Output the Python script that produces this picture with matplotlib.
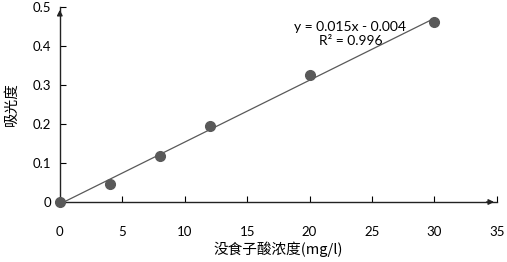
import numpy as np
import matplotlib.pyplot as plt

plt.rcParams['font.family'] = ['Lato', 'DejaVu Sans']

# data
conc = [0, 4, 8, 12, 20, 30]
absorb = [0.0, 0.045, 0.117, 0.195, 0.325, 0.462]
x_ticks = [0, 5, 10, 15, 20, 25, 30, 35]
y_ticks = [0, 0.1, 0.2, 0.3, 0.4, 0.5]
y_labels = ['0', '0.1', '0.2', '0.3', '0.4', '0.5']

fig = plt.figure(figsize=(5.07, 2.62), dpi=100)
ax = fig.add_axes([0.118, 0.229, 0.862, 0.744])

grey = '#595959'
# trend line
fit = np.polyfit(conc, absorb, 1)
xl = np.array([0, 30])
ax.plot(xl, np.polyval(fit, xl), color=grey, lw=0.9, zorder=2)
ax.plot(conc, absorb, 'o', color=grey, ms=7, zorder=3, clip_on=False)

ax.set_xlim(0, 35)
ax.set_ylim(0, 0.5)
ax.set_xticks(x_ticks)
ax.set_yticks(y_ticks)
ax.set_yticklabels(y_labels)
ax.tick_params(axis='x', direction='in', length=4, pad=17, labelsize=9.5)
ax.tick_params(axis='y', direction='in', length=4, pad=6, labelsize=9.5)

for s in ['top', 'right']:
    ax.spines[s].set_visible(False)
for s in ['left', 'bottom']:
    ax.spines[s].set_color('#222222')
    ax.spines[s].set_linewidth(1.0)

# arrowheads at the axis ends
ax.annotate('', xy=(1.0, 0), xytext=(0.97, 0), xycoords='axes fraction',
            arrowprops=dict(arrowstyle='-|>', color='#222222', lw=1, mutation_scale=8))
ax.annotate('', xy=(0, 1.0), xytext=(0, 0.95), xycoords='axes fraction',
            arrowprops=dict(arrowstyle='-|>', color='#222222', lw=1, mutation_scale=8))

ax.text(0.665, 0.862, 'y = 0.015x - 0.004\nR² = 0.996', transform=ax.transAxes,
        ha='center', va='center', fontsize=10, linespacing=1.25)

ax.set_xlabel('没食子酸浓度(mg/l)', family=['Noto Sans CJK SC', 'DejaVu Sans'],
              fontsize=10.5, labelpad=3)
ax.set_ylabel('吸光度', family=['Noto Sans CJK SC', 'DejaVu Sans'],
              fontsize=10.5, labelpad=10)

fig.savefig('out.png', dpi=100)
